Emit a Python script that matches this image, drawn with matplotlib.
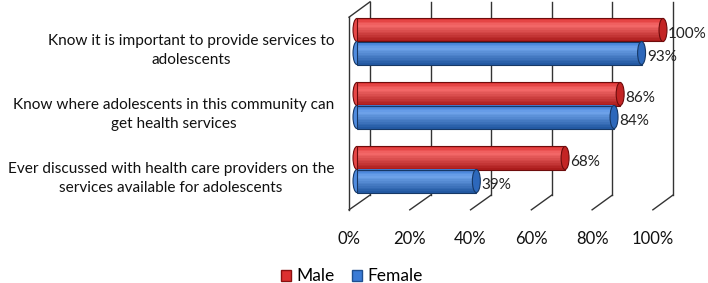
import numpy as np
import matplotlib
matplotlib.use("Agg")
import matplotlib.pyplot as plt
from matplotlib.patches import Ellipse, Patch
from matplotlib.colors import to_rgb

# Data
categories = [
    "Know it is important to provide services to\nadolescents",
    "Know where adolescents in this community can\nget health services",
    "Ever discussed with health care providers on the\nservices available for adolescents",
]
male = [100, 86, 68]
female = [93, 84, 39]
tick_values = [0, 20, 40, 60, 80, 100]

plt.rcParams["font.family"] = ["Lato", "DejaVu Sans"]

fig = plt.figure(figsize=(7.08, 2.83), dpi=100)
ax = fig.add_axes([0, 0, 1, 1])
# x: 0..100 maps to bar pixels 357..663, y: one category per 64 px
px = 3.06
ax.set_xlim(-357 / px, (708 - 357) / px)
ax.set_ylim((283 - 41.5) / 64, -41.5 / 64)
ax.axis("off")

bar_h = 0.36
cap_w = 2.6


def front_x(v):
    return -2.61 + 0.993 * v


def back_x(v):
    return 4.25 + 0.990 * v


back_top, back_bot = -0.62, 2.40
front_top, front_bot = -0.38, 2.63
wall = "#333333"

# back wall gridlines + floor diagonals
for v in tick_values:
    ax.plot([back_x(v), back_x(v)], [back_top, back_bot], color=wall, lw=1.0)
    ax.plot([front_x(v), back_x(v)], [front_bot, back_bot], color=wall, lw=1.0)
# left side wall
ax.plot([front_x(0), front_x(0)], [front_top, front_bot], color=wall, lw=1.0)
ax.plot([front_x(0), back_x(0)], [front_top, back_top], color=wall, lw=1.0)


def mix(c1, c2, t):
    a, b = np.array(to_rgb(c1)), np.array(to_rgb(c2))
    return tuple(a + (b - a) * t)


def cylinder(y, value, light, base, dark, edge):
    # left cap
    ax.add_patch(Ellipse((0, y), cap_w, bar_h, facecolor=mix(base, light, 0.4),
                         edgecolor=edge, lw=0.8, zorder=3))
    n = 14
    top = y - bar_h / 2
    for i in range(n):
        t = (i + 0.5) / n
        if t < 0.3:
            c = mix(base, light, t / 0.3)
        else:
            c = mix(light, dark, (t - 0.3) / 0.7)
        ax.barh(top + (i + 0.5) * bar_h / n, value, height=bar_h / n * 1.05,
                left=0, color=c, lw=0, zorder=4)
    ax.barh(y, value, height=bar_h, left=0, fill=False, edgecolor=edge, lw=0.8, zorder=5)
    # right cap
    ax.add_patch(Ellipse((value, y), cap_w, bar_h, facecolor=mix(base, dark, 0.5),
                         edgecolor=edge, lw=0.8, zorder=6))
    ax.text(value + cap_w / 2 + 0.4, y + 0.06, f"{value}%", fontsize=11,
            ha="left", va="center", color="#222222", zorder=7)


y = np.arange(len(categories))
for i in range(len(categories)):
    cylinder(y[i] - bar_h / 2, male[i], "#f46a6a", "#dd3030", "#a81818", "#6e0c0c")
    cylinder(y[i] + bar_h / 2, female[i], "#6fa3ea", "#3a7bd6", "#1f559f", "#163866")

for i, cat in enumerate(categories):
    ax.text((334 - 357) / px, y[i] + 0.14, cat, fontsize=11.1, ha="right",
            va="center", multialignment="center", color="#111111", linespacing=1.45)

for v in tick_values:
    ax.text(front_x(v), 3.08, f"{v}%", fontsize=12, ha="center", va="center", color="#111111")

handles = [Patch(facecolor="#dd3030", edgecolor="#8a1010", label="Male"),
           Patch(facecolor="#3a7bd6", edgecolor="#1f4f90", label="Female")]
fig.legend(handles=handles, loc="center", bbox_to_anchor=(0.497, 0.024), ncol=2,
           frameon=False, fontsize=12.5, handlelength=0.6, handleheight=0.6,
           handletextpad=0.3, columnspacing=1.0)

fig.savefig("out.png", dpi=100)
